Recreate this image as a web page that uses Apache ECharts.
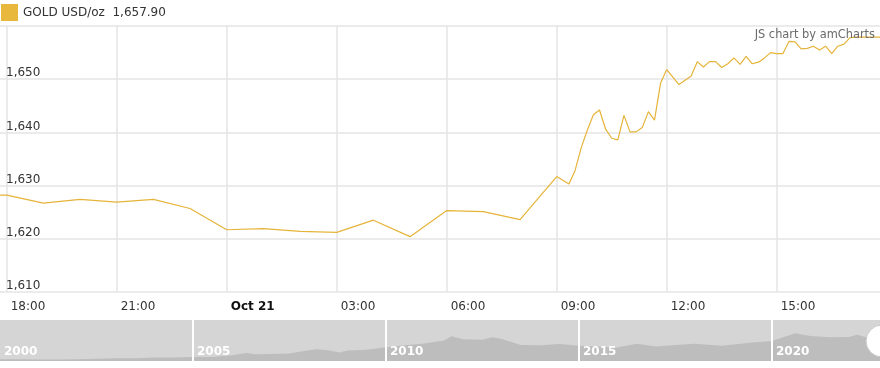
<!DOCTYPE html>
<html><head><meta charset="utf-8">
<script src="https://cdn.jsdelivr.net/npm/echarts@6/dist/echarts.min.js"></script>
<style>html,body{margin:0;padding:0;background:#fff}#c{width:880px;height:368px}</style>
</head><body><div id="c"></div>
<script>
// ---- main series (Oct 20-21, 2022) ----
const times = [
 '2022-10-20 17:00','2022-10-20 18:00','2022-10-20 19:00','2022-10-20 20:00','2022-10-20 21:00',
 '2022-10-20 22:00','2022-10-20 23:00','2022-10-21 00:00','2022-10-21 01:00','2022-10-21 02:00',
 '2022-10-21 03:00','2022-10-21 04:00','2022-10-21 05:00','2022-10-21 06:00','2022-10-21 07:00',
 '2022-10-21 08:00','2022-10-21 09:00','2022-10-21 09:20','2022-10-21 09:30','2022-10-21 09:40',
 '2022-10-21 09:50','2022-10-21 10:00','2022-10-21 10:10','2022-10-21 10:20','2022-10-21 10:30',
 '2022-10-21 10:40','2022-10-21 10:50','2022-10-21 11:00','2022-10-21 11:10','2022-10-21 11:20',
 '2022-10-21 11:30','2022-10-21 11:40','2022-10-21 11:50','2022-10-21 12:00','2022-10-21 12:20',
 '2022-10-21 12:40','2022-10-21 12:50','2022-10-21 13:00','2022-10-21 13:10','2022-10-21 13:20',
 '2022-10-21 13:30','2022-10-21 13:40','2022-10-21 13:50','2022-10-21 14:00','2022-10-21 14:10',
 '2022-10-21 14:20','2022-10-21 14:30','2022-10-21 14:40','2022-10-21 14:50','2022-10-21 15:00',
 '2022-10-21 15:10','2022-10-21 15:20','2022-10-21 15:30','2022-10-21 15:40','2022-10-21 15:50',
 '2022-10-21 16:00','2022-10-21 16:10','2022-10-21 16:20','2022-10-21 16:30','2022-10-21 16:40',
 '2022-10-21 16:50','2022-10-21 17:00','2022-10-21 17:10','2022-10-21 17:20','2022-10-21 17:30',
 '2022-10-21 17:40','2022-10-21 17:50'
];
const prices = [
 1628.3,1628.2,1626.7,1627.4,1626.9,
 1627.4,1625.7,1621.7,1621.9,1621.4,
 1621.2,1623.5,1620.4,1625.3,1625.1,
 1623.6,1631.7,1630.3,1632.8,1637.1,
 1640.4,1643.3,1644.2,1640.6,1638.9,
 1638.6,1643.2,1640.1,1640.1,1640.9,
 1643.9,1642.3,1649.3,1651.8,1649.0,
 1650.6,1653.3,1652.3,1653.3,1653.3,
 1652.2,1652.9,1654.0,1652.8,1654.3,
 1652.9,1653.2,1654.0,1655.0,1654.8,
 1654.8,1657.1,1657.0,1655.7,1655.8,
 1656.2,1655.5,1656.2,1654.8,1656.2,
 1656.6,1657.8,1657.9,1657.9,1657.9,
 1657.9,1657.9
];
const xTickTimes = ['2022-10-20 18:00','2022-10-20 21:00','2022-10-21 00:00','2022-10-21 03:00',
 '2022-10-21 06:00','2022-10-21 09:00','2022-10-21 12:00','2022-10-21 15:00'];
const xRange = ['2022-10-20 17:49','2022-10-21 17:49'];
const yTicks = [1610,1620,1630,1640,1650,1660];
const seriesName = 'GOLD USD/oz';
const lastPrice = '1,657.90';

// ---- navigator (long-term history) ----
const navYears = [2000,2000.5,2001,2001.5,2002,2002.5,2003,2003.5,2004,2004.5,2005,2005.5,2006,2006.4,2006.6,2007,2007.5,
 2008,2008.2,2008.5,2008.8,2009,2009.5,2010,2010.5,2011,2011.5,2011.7,2012,2012.5,2012.75,2013,2013.5,
 2014,2014.5,2015,2015.5,2015.95,2016.5,2017,2017.5,2018,2018.7,2019,2019.5,2020,2020.6,2021,2021.5,2022,2022.2,2022.5,2022.8];
const navPrices = [285,280,268,270,290,315,345,350,410,400,430,430,560,700,620,640,670,
 900,960,900,740,880,930,1100,1230,1360,1550,1850,1650,1600,1780,1660,1250,
 1240,1320,1200,1150,1060,1330,1150,1250,1330,1200,1290,1420,1520,2050,1870,1780,1800,1950,1750,1650];
const navYearTicks = [2005,2010,2015,2020];

// hours since 2022-10-20 00:00
function hrs(s){const [d,t]=s.split(' ');const day=Number(d.split('-')[2]);const [h,m]=t.split(':').map(Number);return (day-20)*24+h+m/60;}
const FONT = "'DejaVu Sans', Verdana, sans-serif";
const mainData = times.map((t,i)=>[hrs(t),prices[i]]);
const navData = navYears.map((y,i)=>[y,navPrices[i]]);
const tickVals = xTickTimes.map(hrs);
const gridColor = '#e4e4e4';

const chart = echarts.init(document.getElementById('c'));
chart.setOption({
  animation:false,
  textStyle:{fontFamily:FONT},
  title:{text:'JS chart by amCharts',right:5,top:30,padding:0,textStyle:{fontSize:11.4,color:'#6b6b6b',fontWeight:'normal',fontFamily:FONT}},
  legend:{left:1,top:4,padding:0,icon:'rect',itemWidth:17,itemHeight:17,data:[seriesName],
    formatter:n=>n+'  '+lastPrice,textStyle:{fontSize:12,color:'#333',fontFamily:FONT,padding:[4,0,0,0]}},
  grid:[
    {left:0,right:0,top:26,bottom:76,containLabel:false},
    {left:0,right:0,top:320,height:41,show:true,backgroundColor:'#d5d5d5',borderWidth:0}
  ],
  xAxis:[
    {type:'value',gridIndex:0,min:hrs(xRange[0]),max:hrs(xRange[1]),
     axisLine:{show:false},
     axisTick:{show:false,customValues:tickVals},
     splitLine:{show:true,lineStyle:{color:gridColor,width:1.5}},
     axisLabel:{customValues:tickVals,align:'left',padding:[0,0,0,4],margin:9,fontSize:12,color:'#333',fontFamily:FONT,
       hideOverlap:false,showMinLabel:true,showMaxLabel:true,
       formatter:function(v){const h=Math.round(v)%24;
         if(h===0) return '{b|Oct '+(20+Math.round(v)/24)+'}';
         return (h<10?'0':'')+h+':00';},
       rich:{b:{fontWeight:'bold',fontSize:12,color:'#111',fontFamily:FONT}}}},
    {type:'value',gridIndex:1,min:2000,max:2022.8,interval:5,z:5,
     axisLine:{show:false},axisTick:{show:false},splitLine:{show:false},
     axisLabel:{inside:true,align:'left',padding:[0,0,0,4],margin:3,color:'#fff',fontWeight:'bold',fontSize:12,fontFamily:FONT,showMaxLabel:false,
       formatter:v=>String(v)}}
  ],
  yAxis:[
    {type:'value',gridIndex:0,min:yTicks[0],max:yTicks[yTicks.length-1],interval:10,
     axisLine:{show:false},axisTick:{show:false},
     splitLine:{show:true,lineStyle:{color:gridColor,width:1.5}},
     axisLabel:{inside:true,margin:6,verticalAlign:'bottom',showMaxLabel:false,fontSize:12,color:'#333',fontFamily:FONT,
       formatter:v=>v.toLocaleString('en-US')}},
    {type:'value',gridIndex:1,min:165,max:2950,show:false,splitLine:{show:false}}
  ],
  series:[
    {name:seriesName,type:'line',xAxisIndex:0,yAxisIndex:0,data:mainData,showSymbol:false,symbol:'none',
     clip:true,color:'#e6b43a',lineStyle:{color:'#e6b43a',width:1.2},itemStyle:{color:'#e8b83c'}},
    {name:'nav',type:'line',xAxisIndex:1,yAxisIndex:1,data:navData,symbol:'none',silent:true,
     lineStyle:{width:0},areaStyle:{color:'#bdbdbd',opacity:1},
     markLine:{silent:true,symbol:['none','none'],label:{show:false},
       lineStyle:{color:'#ffffff',width:2,type:'solid'},data:navYearTicks.map(y=>({xAxis:y}))}}
  ],
  graphic:[
    {type:'circle',shape:{cx:882,cy:341,r:16},style:{fill:'#fff',stroke:'#c8c8c8',lineWidth:1},z:10}
  ]
});
</script></body></html>
